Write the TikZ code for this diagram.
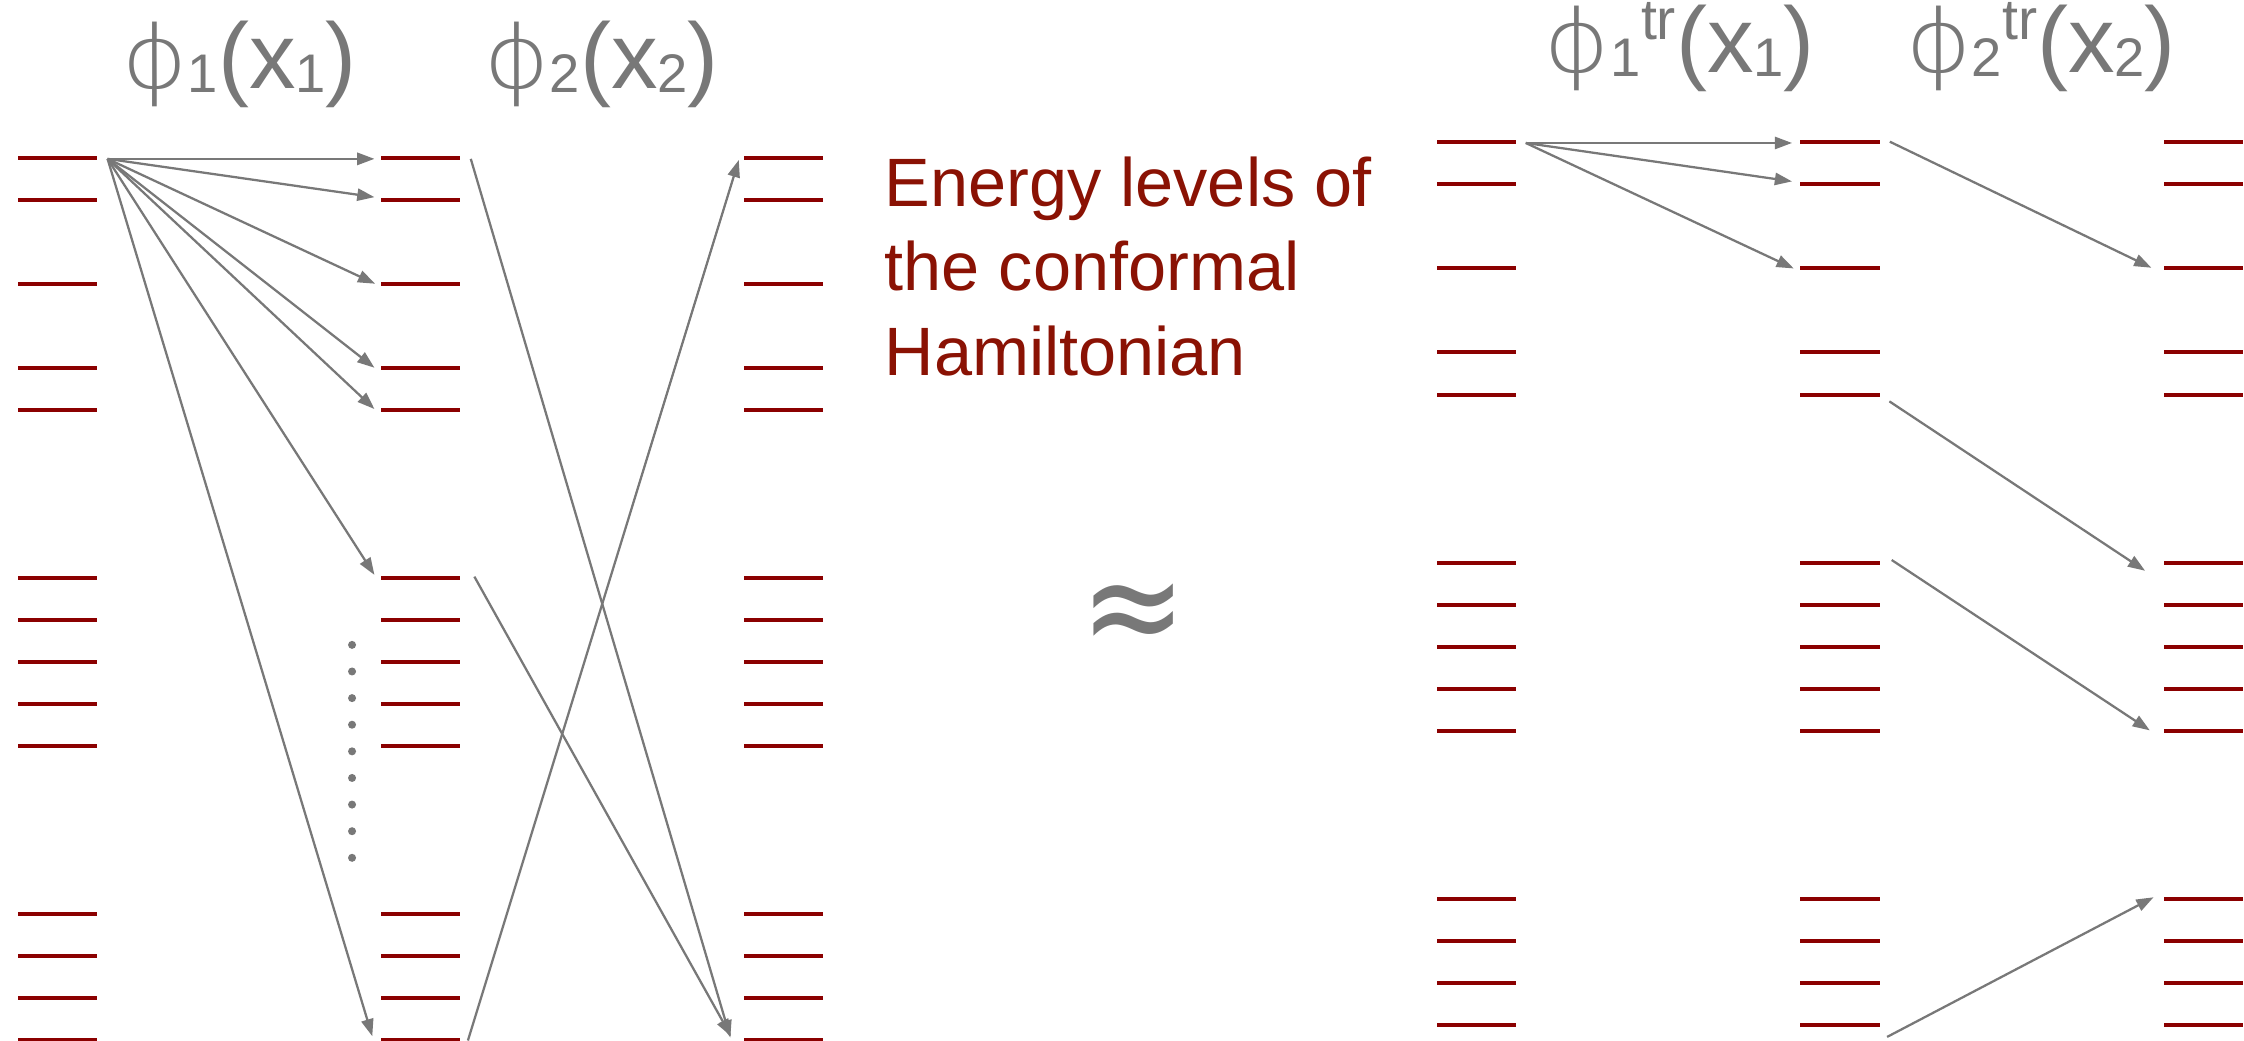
\documentclass[tikz,border=0pt]{standalone}
\usepackage{fontspec}
\setmainfont{Liberation Sans}
\newfontfamily\dvs{DejaVu Sans}
\newfontfamily\dvl[FakeStretch=1.15]{DejaVu Sans ExtraLight}
\usetikzlibrary{arrows.meta}
\definecolor{levred}{RGB}{139,0,0}
\definecolor{txtred}{RGB}{138,18,4}
\definecolor{arrgray}{RGB}{120,120,120}
\newcommand\lsub[1]{\raisebox{-0.04em}{\fontsize{10.8}{12}\selectfont #1}}
\newcommand\lsup[1]{\raisebox{0.36em}{\fontsize{11.4}{12}\selectfont #1}}
\newcommand\lphi{{\dvl\fontsize{17.5}{20}\selectfont ϕ}}
\begin{document}
\begin{tikzpicture}[x=0.01cm, y=-0.01cm,
  lev/.style={rectangle, fill=levred, draw=none, minimum width=0.553cm, minimum height=0.028cm, inner sep=0pt, outer sep=0pt},
  arr/.style={draw=arrgray, line width=0.45pt, -{Triangle[length=0.12cm,width=0.085cm]}},
  ttl/.style={text=arrgray, font=\fontsize{18.5}{20}\selectfont, anchor=base, inner sep=0pt},
  etxt/.style={text=txtred, font=\fontsize{13.6}{17}\selectfont, anchor=base west, inner sep=0pt},
  dotm/.style={circle, fill=arrgray, draw=none, inner sep=0pt, minimum size=0.056cm}]
\useasboundingbox (0,0) rectangle (1568,727);
% energy levels
\foreach \k in {0,1,3,5,6,10,11,12,13,14,18,19,20,21} {
  \node[lev] (A\k) at (40,{110.2+29.35*\k}) {};
  \node[lev] (B\k) at (293.8,{110.2+29.35*\k}) {};
  \node[lev] (C\k) at (547.5,{110.2+29.35*\k}) {};
  \node[lev] (D\k) at (1031.7,{99.5+29.36*\k}) {};
  \node[lev] (E\k) at (1285.7,{99.5+29.36*\k}) {};
  \node[lev] (F\k) at (1539.7,{99.5+29.36*\k}) {};
}
% titles
\node[ttl] (t1) at (167,62) {\lphi\lsub{1}(x\lsub{1})};
\node[ttl] (t2) at (420,62) {\lphi\lsub{2}(x\lsub{2})};
\node[ttl] (t3) at (1173.5,51) {\lphi\lsub{1}\lsup{tr}(x\lsub{1})};
\node[ttl] (t4) at (1425.8,51) {\lphi\lsub{2}\lsup{tr}(x\lsub{2})};
% description
\node[etxt] (e1) at (617.5,144) {Energy levels of};
\node[etxt] (e2) at (617.5,203.1) {the conformal};
\node[etxt] (e3) at (617.5,262.7) {Hamiltonian};
\node[text=arrgray, font=\dvs\fontsize{24}{24}\selectfont, inner sep=0pt] (approx) at (792,433) {\scalebox{1.05}[1.2]{≈}};
% dots
\foreach \i in {0,...,8} \node[dotm] (d\i) at (246,{450.6+18.6*\i}) {};
% left arrows
\coordinate (O1) at ([shift={(7.5,0.8)}]A0.east);
\draw[arr] (O1) -- ([shift={(-4.5,0.8)}]B0.west);
\draw[arr] (O1) -- ([shift={(-4.5,-1.8)}]B1.west);
\draw[arr] (O1) -- ([shift={(-4,0)}]B3.west);
\draw[arr] (O1) -- ([shift={(-4.5,0)}]B5.west);
\draw[arr] (O1) -- ([shift={(-4.5,-0.5)}]B6.west);
\draw[arr] (O1) -- ([shift={(-4.5,-2)}]B10.west);
\draw[arr] (O1) -- ([shift={(-6,-2.5)}]B21.west);
\draw[arr] ([shift={(7.5,0.8)}]B0.east) -- ([shift={(-9.5,-1.6)}]C21.west);
\draw[arr] ([shift={(10,-0.8)}]B10.east) -- ([shift={(-9,-2.5)}]C21.west);
\draw[arr] ([shift={(5.5,0.5)}]B21.east) -- ([shift={(-3.6,1.6)}]C0.west);
% right arrows
\coordinate (O2) at ([shift={(6.75,0.4)}]D0.east);
\draw[arr] (O2) -- ([shift={(-5.85,0.4)}]E0.west);
\draw[arr] (O2) -- ([shift={(-5.85,-2.1)}]E1.west);
\draw[arr] (O2) -- ([shift={(-4.65,0)}]E3.west);
\draw[arr] ([shift={(7.15,-0.5)}]E0.east) -- ([shift={(-8.75,-0.5)}]F3.west);
\draw[arr] ([shift={(6.85,4.8)}]E6.east) -- ([shift={(-13.15,5.7)}]F10.west);
\draw[arr] ([shift={(8.45,-1.8)}]E10.east) -- ([shift={(-9.85,-0.2)}]F14.west);
\draw[arr] ([shift={(5.25,8.5)}]E21.east) -- ([shift={(-7.25,-1)}]F18.west);
\end{tikzpicture}
\end{document}
